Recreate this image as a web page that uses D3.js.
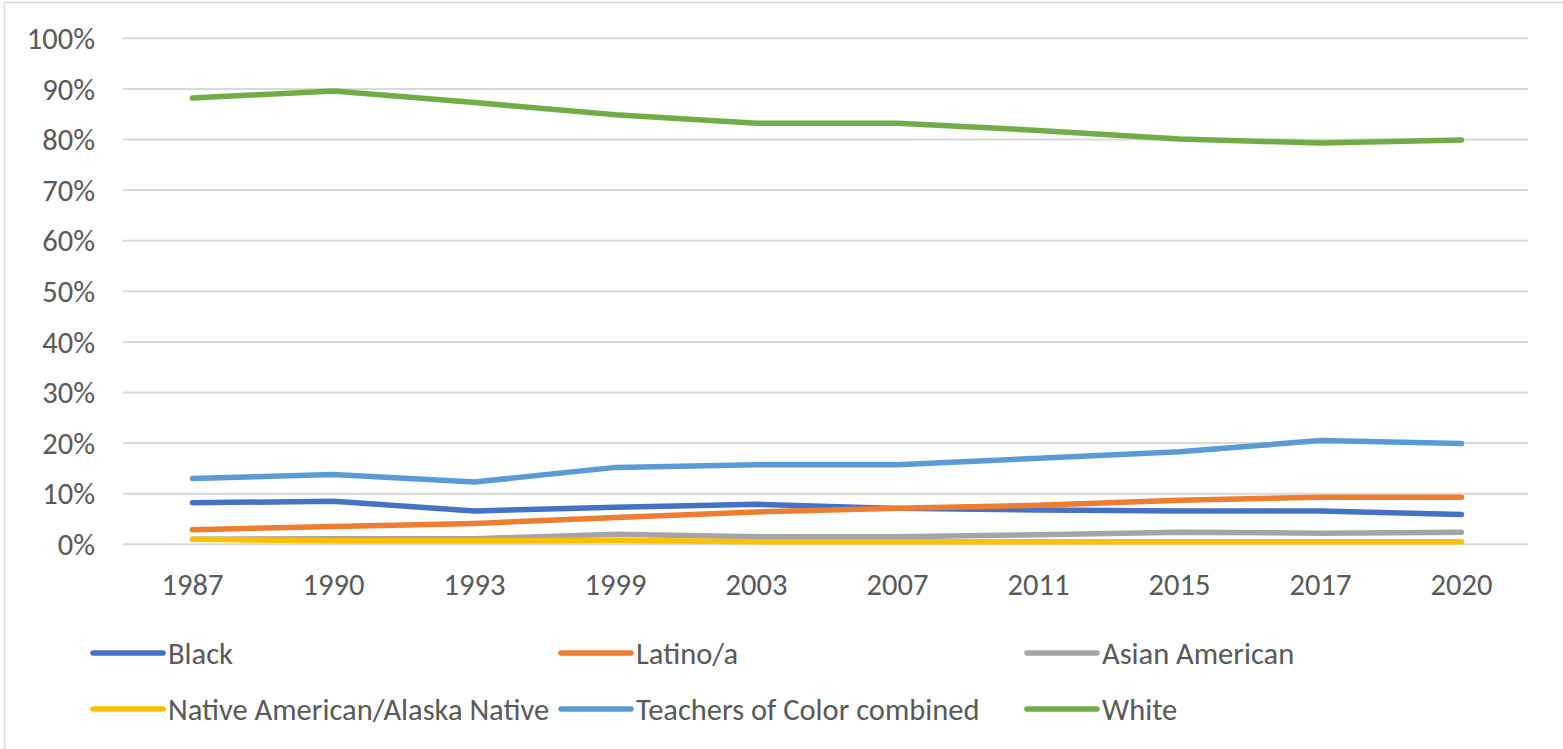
<!DOCTYPE html>
<html>
<head>
<meta charset="utf-8">
<script src="https://cdn.jsdelivr.net/npm/d3@7"></script>
<style>
  body { margin: 0; background: #fff; }
  text { font-family: Carlito, "Liberation Sans", Arial, sans-serif; fill: #595959; }
</style>
</head>
<body>
<div id="chart"></div>
<script>
'use strict';
// years on the x axis
const years = ["1987", "1990", "1993", "1999", "2003", "2007", "2011", "2015", "2017", "2020"];
// share of teachers, percent
const black = [8.2, 8.5, 6.6, 7.3, 7.9, 7.1, 6.8, 6.6, 6.6, 5.9];
const latino = [2.9, 3.5, 4.1, 5.3, 6.4, 7.1, 7.7, 8.7, 9.3, 9.3];
const asian = [1.0, 1.1, 1.1, 2.0, 1.5, 1.5, 1.9, 2.4, 2.2, 2.4];
const nativeAm = [1.0, 0.7, 0.7, 0.8, 0.5, 0.5, 0.5, 0.5, 0.5, 0.5];
const combined = [13.0, 13.8, 12.3, 15.2, 15.7, 15.7, 17.0, 18.3, 20.5, 19.9];
const white = [88.2, 89.6, 87.3, 84.9, 83.2, 83.2, 81.8, 80.1, 79.3, 79.9];
const yTicks = [0, 10, 20, 30, 40, 50, 60, 70, 80, 90, 100];

const seriesNames = ["Black", "Latino/a", "Asian American", "Native American/Alaska Native", "Teachers of Color combined", "White"];
const seriesValues = [black, latino, asian, nativeAm, combined, white];
const colors = ["#4472C4", "#ED7D31", "#A5A5A5", "#FFC000", "#5B9BD5", "#70AD47"];

const W = 1563, H = 749;
const fontSize = "30.5px";
const svg = d3.select("#chart").append("svg")
    .attr("width", W)
    .attr("height", H);

// outer chart border (only top and left show in the picture)
svg.append("rect")
    .attr("x", 4.5).attr("y", 2.5)
    .attr("width", W + 10).attr("height", H + 10)
    .attr("fill", "none")
    .attr("stroke", "#d9d9d9")
    .attr("stroke-width", 1.5);

const x = d3.scaleBand().domain(years).range([122, 1532]).padding(0);
const y = d3.scaleLinear().domain([0, 100]).range([544.3, 38.3]);
const cx = d => x(d) + x.bandwidth() / 2;

// gridlines
svg.append("g").selectAll("line")
    .data(yTicks)
    .enter().append("line")
    .attr("x1", 123).attr("x2", 1528)
    .attr("y1", d => y(d)).attr("y2", d => y(d))
    .attr("stroke", "#d9d9d9")
    .attr("stroke-width", 2);

// y tick labels
svg.append("g").selectAll("text")
    .data(yTicks)
    .enter().append("text")
    .attr("x", 95)
    .attr("y", d => y(d))
    .attr("dy", "0.35em")
    .attr("text-anchor", "end")
    .style("font-size", fontSize)
    .text(d => d + "%");

// x tick labels
svg.append("g").selectAll("text")
    .data(years)
    .enter().append("text")
    .attr("x", d => cx(d))
    .attr("y", 584)
    .attr("dy", "0.35em")
    .attr("text-anchor", "middle")
    .style("font-size", fontSize)
    .text(d => d);

const line = d3.line()
    .x((d, i) => cx(years[i]))
    .y(d => y(d));

// series lines, drawn in legend order
svg.append("g").selectAll("path")
    .data(seriesValues)
    .enter().append("path")
    .attr("d", line)
    .attr("fill", "none")
    .attr("stroke", (d, i) => colors[i])
    .attr("stroke-width", 5.5)
    .attr("stroke-linecap", "round")
    .attr("stroke-linejoin", "round");

// legend, 3 columns x 2 rows
const legX = [93, 561, 1027];
const legY = [653, 709];
const leg = svg.append("g").selectAll("g")
    .data(seriesNames)
    .enter().append("g")
    .attr("transform", (d, i) => "translate(" + legX[i % 3] + "," + legY[Math.floor(i / 3)] + ")");
leg.append("line")
    .attr("x1", 0).attr("x2", 70)
    .attr("stroke", (d, i) => colors[i])
    .attr("stroke-width", 5.5)
    .attr("stroke-linecap", "round");
leg.append("text")
    .attr("x", 75)
    .attr("dy", "0.35em")
    .style("font-size", fontSize)
    .text(d => d);
</script>
</body>
</html>
